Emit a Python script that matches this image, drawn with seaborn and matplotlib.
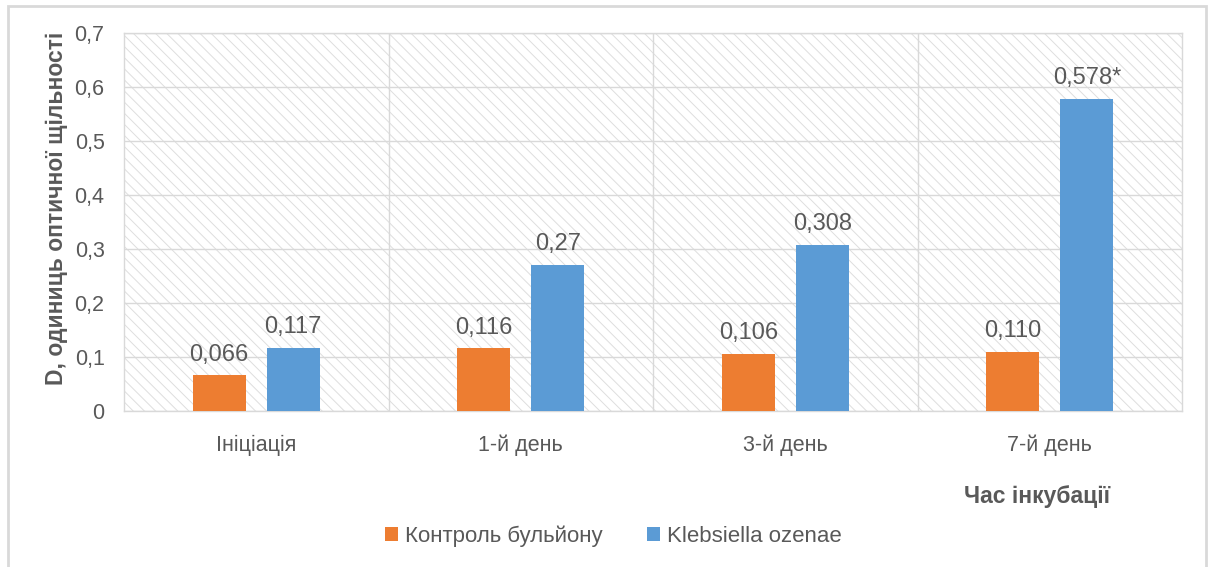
import matplotlib
matplotlib.use("Agg")
import matplotlib.pyplot as plt
from matplotlib.patches import Rectangle
import pandas as pd
import seaborn as sns

# Data
categories = ["Ініціація", "1-й день", "3-й день", "7-й день"]
series_names = ["Контроль бульйону", "Klebsiella ozenae"]
control_labels = ["0,066", "0,116", "0,106", "0,110"]
klebsiella_labels = ["0,117", "0,27", "0,308", "0,578*"]
y_ticks = [0.0, 0.1, 0.2, 0.3, 0.4, 0.5, 0.6, 0.7]
y_tick_labels = ["0", "0,1", "0,2", "0,3", "0,4", "0,5", "0,6", "0,7"]
x_title = "Час інкубації"
y_title = "D, одиниць оптичної щільності"


def to_value(label):
    return float(label.rstrip("*").replace(",", "."))


control_values = [to_value(s) for s in control_labels]
klebsiella_values = [to_value(s) for s in klebsiella_labels]

df = pd.DataFrame({
    "Категорія": categories * 2,
    "Група": [series_names[0]] * 4 + [series_names[1]] * 4,
    "Значення": control_values + klebsiella_values,
})

plt.rcParams["font.family"] = ["Liberation Sans", "DejaVu Sans"]
plt.rcParams["hatch.linewidth"] = 0.7
text_color = "#595959"
grid_color = "#d9d9d9"
palette = {series_names[0]: "#ED7D31", series_names[1]: "#5B9BD5"}

fig = plt.figure(figsize=(12.08, 5.67), dpi=100)
ax = fig.add_axes([124 / 1208, 1 - 411 / 567, (1182 - 124) / 1208, 378 / 567])

# hatched plot-area background
ax.add_patch(Rectangle((0, 0), 1, 1, transform=ax.transAxes, facecolor="white",
                       edgecolor="#dedede", hatch="\\\\\\", linewidth=0, zorder=0.1))

sns.barplot(data=df, x="Категорія", y="Значення", hue="Група", palette=palette,
            order=categories, hue_order=series_names, width=0.56, gap=0.29,
            saturation=1, ax=ax, zorder=3, edgecolor="none")

for container, labels in zip(ax.containers, [control_labels, klebsiella_labels]):
    ax.bar_label(container, labels=labels, padding=7, fontsize=17, color=text_color)

ax.set_ylim(0, 0.7)
ax.set_xlim(-0.5, len(categories) - 0.5)
ax.set_yticks(y_ticks)
ax.set_yticklabels(y_tick_labels)
ax.yaxis.grid(True, color=grid_color, linewidth=1, zorder=0.5)
for xb in [0.5, 1.5, 2.5]:
    ax.axvline(xb, color=grid_color, linewidth=1, zorder=0.5)
ax.set_axisbelow(True)
ax.tick_params(axis="both", length=0, labelsize=15.5, colors=text_color)
ax.tick_params(axis="y", pad=14)
ax.tick_params(axis="x", pad=17)
for sp in ax.spines.values():
    sp.set_color(grid_color)
    sp.set_linewidth(1)

ax.set_xlabel("")
ax.set_ylabel("")
fig.text(57 / 1208, 1 - 208 / 567, y_title, rotation=90, ha="center", va="center",
         fontsize=16.5, fontweight="bold", color=text_color)
fig.text(1037 / 1208, 1 - 496 / 567, x_title, ha="center", va="center",
         fontsize=16.5, fontweight="bold", color=text_color)

handles, labels = ax.get_legend_handles_labels()
if ax.get_legend() is not None:
    ax.get_legend().remove()
fig.legend(handles, labels, loc="center", bbox_to_anchor=(613 / 1208, 1 - 536 / 567),
           ncol=2, frameon=False, fontsize=16, labelcolor=text_color,
           handlelength=0.6, handleheight=0.6, handletextpad=0.3, columnspacing=2.0)

# chart frame
fig.patches.append(Rectangle((8 / 1208, -0.01), (1206 - 8) / 1208, 1 - 6 / 567 + 0.01,
                             transform=fig.transFigure, fill=False,
                             edgecolor="#d9d9d9", linewidth=2))

fig.savefig("out.png", dpi=100)
